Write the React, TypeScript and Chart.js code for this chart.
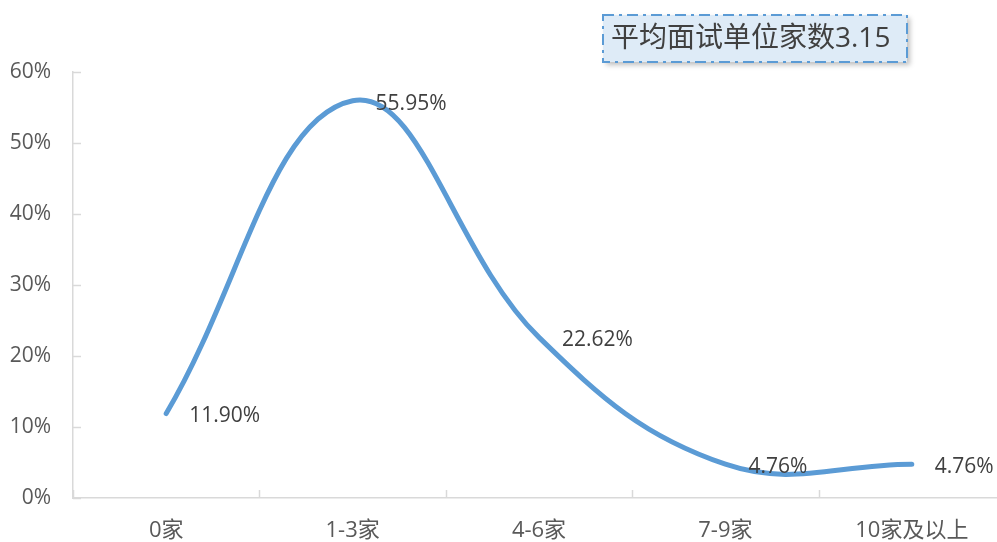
import React, { useEffect, useRef } from "react";
import { Chart, registerables } from "chart.js";

Chart.register(...registerables);

const categories = ["0家", "1-3家", "4-6家", "7-9家", "10家及以上"];
const values = [11.9, 55.95, 22.62, 4.76, 4.76];
const valueLabels = ["11.90%", "55.95%", "22.62%", "4.76%", "4.76%"];
const yTicks = [0, 10, 20, 30, 40, 50, 60];
const boxText = "平均面试单位家数3.15";

const FONT = "'Open Sans', 'Noto Sans CJK SC', sans-serif";
const TEXT = "#595959";
const AXIS = "#d9d9d9";
const LINE = "#5b9bd5";

const decorPlugin = {
  id: "decor",
  afterDraw(chart: any) {
    const ctx = chart.ctx;
    const xs = chart.scales.x;
    const ys = chart.scales.y;
    ctx.save();
    // inside tick marks
    ctx.strokeStyle = AXIS;
    ctx.lineWidth = 1.5;
    const left = chart.chartArea.left;
    const bottom = chart.chartArea.bottom;
    yTicks.forEach((v) => {
      const y = Math.round(ys.getPixelForValue(v)) + 0.5;
      ctx.beginPath();
      ctx.moveTo(left, y);
      ctx.lineTo(left + 8, y);
      ctx.stroke();
    });
    for (let i = 0; i <= categories.length; i++) {
      const x = xs.getPixelForValue(i - 0.5);
      ctx.beginPath();
      ctx.moveTo(Math.round(x) + 0.5, bottom);
      ctx.lineTo(Math.round(x) + 0.5, bottom - 8);
      ctx.stroke();
    }
    // data labels
    const meta = chart.getDatasetMeta(0);
    ctx.fillStyle = "#404040";
    ctx.font = `21px ${FONT}`;
    ctx.textAlign = "left";
    ctx.textBaseline = "middle";
    meta.data.forEach((pt: any, i: number) => {
      ctx.fillText(valueLabels[i], pt.x + 23, pt.y + 3);
    });
    // annotation box
    const bx = 603, by = 15, bw = 304, bh = 47;
    ctx.save();
    ctx.shadowColor = "rgba(0,0,0,0.25)";
    ctx.shadowBlur = 5;
    ctx.shadowOffsetX = 3;
    ctx.shadowOffsetY = 3;
    ctx.fillStyle = "#deebf7";
    ctx.fillRect(bx, by, bw, bh);
    ctx.restore();
    ctx.strokeStyle = LINE;
    ctx.lineWidth = 2;
    ctx.setLineDash([11, 5, 3, 5]);
    ctx.strokeRect(bx, by, bw, bh);
    ctx.setLineDash([]);
    ctx.fillStyle = "#404040";
    ctx.font = `28px ${FONT}`;
    ctx.textBaseline = "middle";
    ctx.textAlign = "left";
    ctx.fillText(boxText, 611, by + bh / 2 + 1);
    ctx.restore();
  },
};

export default function App() {
  const ref = useRef<HTMLCanvasElement>(null);
  useEffect(() => {
    if (!ref.current) return;
    const chart = new Chart(ref.current, {
      type: "line",
      data: {
        labels: categories,
        datasets: [
          {
            data: values,
            borderColor: LINE,
            borderWidth: 5,
            tension: 0.4,
            pointRadius: 0,
            fill: false,
            borderCapStyle: "round",
          } as any,
        ],
      },
      options: {
        responsive: false,
        animation: false,
        devicePixelRatio: 1,
        layout: { padding: { top: 72, right: 5, left: 0, bottom: 0 } },
        plugins: { legend: { display: false }, tooltip: { enabled: false } },
        scales: {
          x: {
            type: "category",
            offset: true,
            grid: { display: false, offset: true, drawTicks: false },
            border: { display: true, color: AXIS, width: 1.5 },
            ticks: {
              color: TEXT,
              font: { family: FONT, size: 22 },
              padding: 20,
              maxRotation: 0,
              autoSkip: false,
            },
            afterFit: (s: any) => {
              s.height = 44;
            },
          },
          y: {
            min: 0,
            max: 60,
            grid: { display: false, drawTicks: false },
            border: { display: true, color: AXIS, width: 1.5 },
            ticks: {
              stepSize: 10,
              color: TEXT,
              font: { family: FONT, size: 21 },
              padding: 22,
              callback: (v: any) => `${v}%`,
            },
            afterFit: (s: any) => {
              s.width = 73;
            },
          },
        },
      },
      plugins: [decorPlugin],
    });
    return () => chart.destroy();
  }, []);
  return (
    <div
      style={{
        position: "fixed",
        left: 0,
        top: 0,
        width: 997,
        height: 542,
        overflow: "hidden",
        background: "#fff",
      }}
    >
      <canvas ref={ref} width={1010} height={542} style={{ width: 1010, height: 542, display: "block" }} />
    </div>
  );
}
